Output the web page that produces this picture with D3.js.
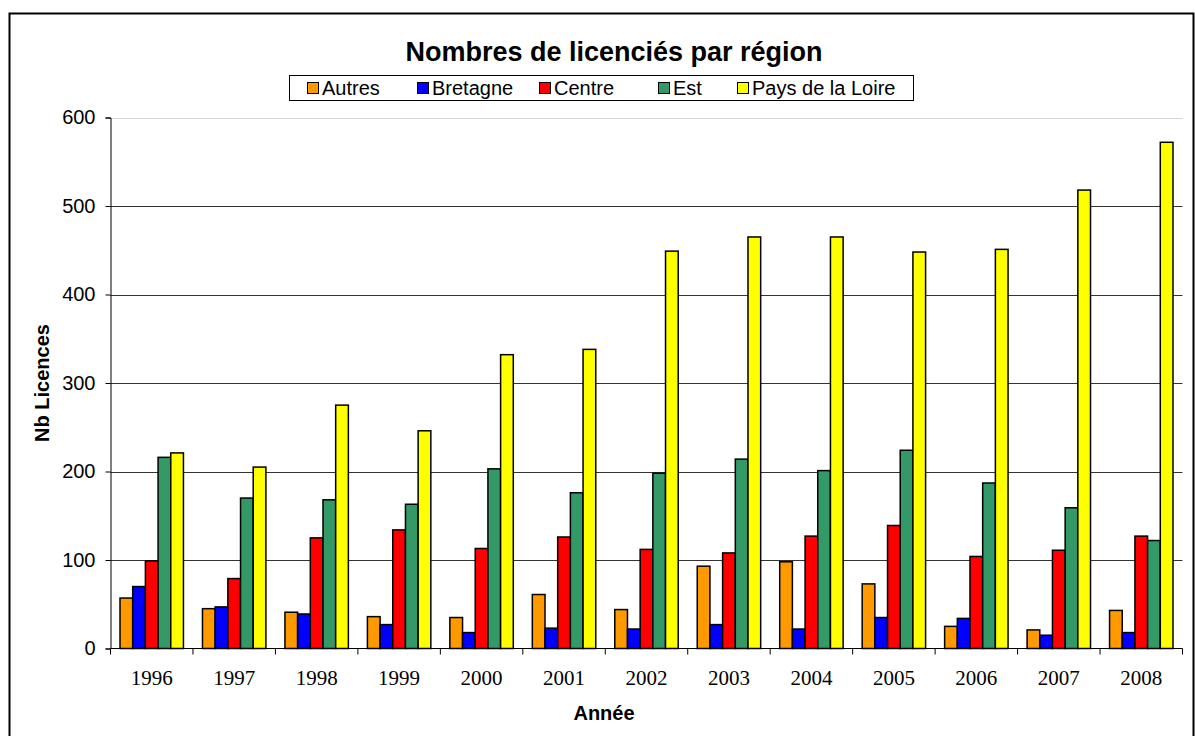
<!DOCTYPE html>
<html>
<head>
<meta charset="utf-8">
<script src="https://cdn.jsdelivr.net/npm/d3@7"></script>
<style>
  body { margin: 0; background: #fff; }
  svg { display: block; }
</style>
</head>
<body>
<svg id="chart" width="1195" height="736"></svg>
<script>
// data
const years = ["1996", "1997", "1998", "1999", "2000", "2001", "2002", "2003", "2004", "2005", "2006", "2007", "2008"];
const regions = ["Autres", "Bretagne", "Centre", "Est", "Pays de la Loire"];
const autres   = [57, 45, 41, 36, 35, 61, 44, 93, 98, 73, 25, 21, 43];
const bretagne = [70, 47, 39, 27, 18, 23, 22, 27, 22, 35, 34, 15, 18];
const centre   = [99, 79, 125, 134, 113, 126, 112, 108, 127, 139, 104, 111, 127];
const est      = [216, 170, 168, 163, 203, 176, 198, 214, 201, 224, 187, 159, 122];
const loire    = [221, 205, 275, 246, 332, 338, 449, 465, 465, 448, 451, 518, 572];
const yTicks = [0, 100, 200, 300, 400, 500, 600];
const colors = ["#FF9900", "#0000FF", "#FF0000", "#339966", "#FFFF00"];

const series = [autres, bretagne, centre, est, loire];

const sans = "Liberation Sans, Arial, sans-serif";
const svg = d3.select("#chart");

// outer frame
svg.append("rect")
  .attr("x", 9.5).attr("y", 13.5)
  .attr("width", 1184).attr("height", 740)
  .attr("fill", "none").attr("stroke", "#000").attr("stroke-width", 2);

const plotLeft = 110.5, plotRight = 1182.5, plotTop = 117.5, plotBottom = 648.5;

const x0 = d3.scaleBand().domain(years).range([plotLeft, plotRight]);
const x1 = d3.scaleBand().domain(regions).range([0, x0.bandwidth()]).paddingOuter(0.75);
const y = d3.scaleLinear().domain([0, 600]).range([plotBottom, plotTop]);

// gridlines
svg.append("g")
  .selectAll("line")
  .data(yTicks.filter(d => d > 0))
  .join("line")
  .attr("x1", plotLeft).attr("x2", plotRight)
  .attr("y1", d => Math.round(y(d)) + 0.5).attr("y2", d => Math.round(y(d)) + 0.5)
  .attr("stroke", d => d === 600 ? "#d8d8d8" : "#333")
  .attr("stroke-width", 1);

// bars
const groups = svg.append("g")
  .selectAll("g")
  .data(years)
  .join("g")
  .attr("transform", d => `translate(${x0(d)},0)`);

groups.selectAll("rect")
  .data((d, i) => regions.map((r, j) => ({ region: r, value: series[j][i], color: colors[j] })))
  .join("rect")
  .attr("x", d => x1(d.region))
  .attr("width", x1.bandwidth())
  .attr("y", d => y(d.value))
  .attr("height", d => y(0) - y(d.value))
  .attr("fill", d => d.color)
  .attr("stroke", "#000")
  .attr("stroke-width", 1.5);

// y axis
const yAxis = svg.append("g")
  .attr("transform", `translate(${plotLeft},0)`)
  .call(d3.axisLeft(y).tickValues(yTicks).tickSize(5).tickPadding(10));
yAxis.select(".domain").attr("stroke", "#000");
yAxis.selectAll("line").attr("stroke", "#000");
yAxis.selectAll("text")
  .attr("font-family", sans)
  .attr("font-size", 20).attr("fill", "#000");

// x axis with ticks between categories
const xAxis = svg.append("g")
  .attr("transform", `translate(0,${plotBottom})`);
xAxis.append("line")
  .attr("x1", plotLeft).attr("x2", plotRight).attr("y1", 0).attr("y2", 0)
  .attr("stroke", "#000");
xAxis.selectAll("line.tick")
  .data(years.concat(["end"]))
  .join("line")
  .attr("class", "tick")
  .attr("x1", (d, i) => plotLeft + i * x0.step()).attr("x2", (d, i) => plotLeft + i * x0.step())
  .attr("y1", 0).attr("y2", 6)
  .attr("stroke", "#000");
xAxis.selectAll("text")
  .data(years)
  .join("text")
  .attr("x", d => x0(d) + x0.bandwidth() / 2)
  .attr("y", 36)
  .attr("text-anchor", "middle")
  .attr("font-family", "Liberation Serif, Times New Roman, serif")
  .attr("font-size", 21)
  .text(d => d);

// axis titles
svg.append("text")
  .attr("x", 604).attr("y", 720)
  .attr("text-anchor", "middle")
  .attr("font-family", sans)
  .attr("font-size", 20).attr("font-weight", "bold")
  .text("Année");

svg.append("text")
  .attr("transform", "translate(49,383) rotate(-90)")
  .attr("text-anchor", "middle")
  .attr("font-family", sans)
  .attr("font-size", 20).attr("font-weight", "bold")
  .text("Nb Licences");

// title
svg.append("text")
  .attr("x", 614).attr("y", 61)
  .attr("text-anchor", "middle")
  .attr("font-family", sans)
  .attr("font-size", 27).attr("font-weight", "bold")
  .text("Nombres de licenciés par région");

// legend
const legendX = [307, 417, 539, 658, 737];
svg.append("rect")
  .attr("x", 289.5).attr("y", 75.5)
  .attr("width", 624).attr("height", 25)
  .attr("fill", "#fff").attr("stroke", "#000");

const items = svg.append("g")
  .selectAll("g")
  .data(regions)
  .join("g")
  .attr("transform", (d, i) => `translate(${legendX[i]},82)`);
items.append("rect")
  .attr("x", 0.5).attr("y", 0.5)
  .attr("width", 11).attr("height", 11)
  .attr("fill", (d, i) => colors[i])
  .attr("stroke", "#000");
items.append("text")
  .attr("x", 15).attr("y", 13)
  .attr("font-family", sans)
  .attr("font-size", 20)
  .text(d => d);
</script>
</body>
</html>
